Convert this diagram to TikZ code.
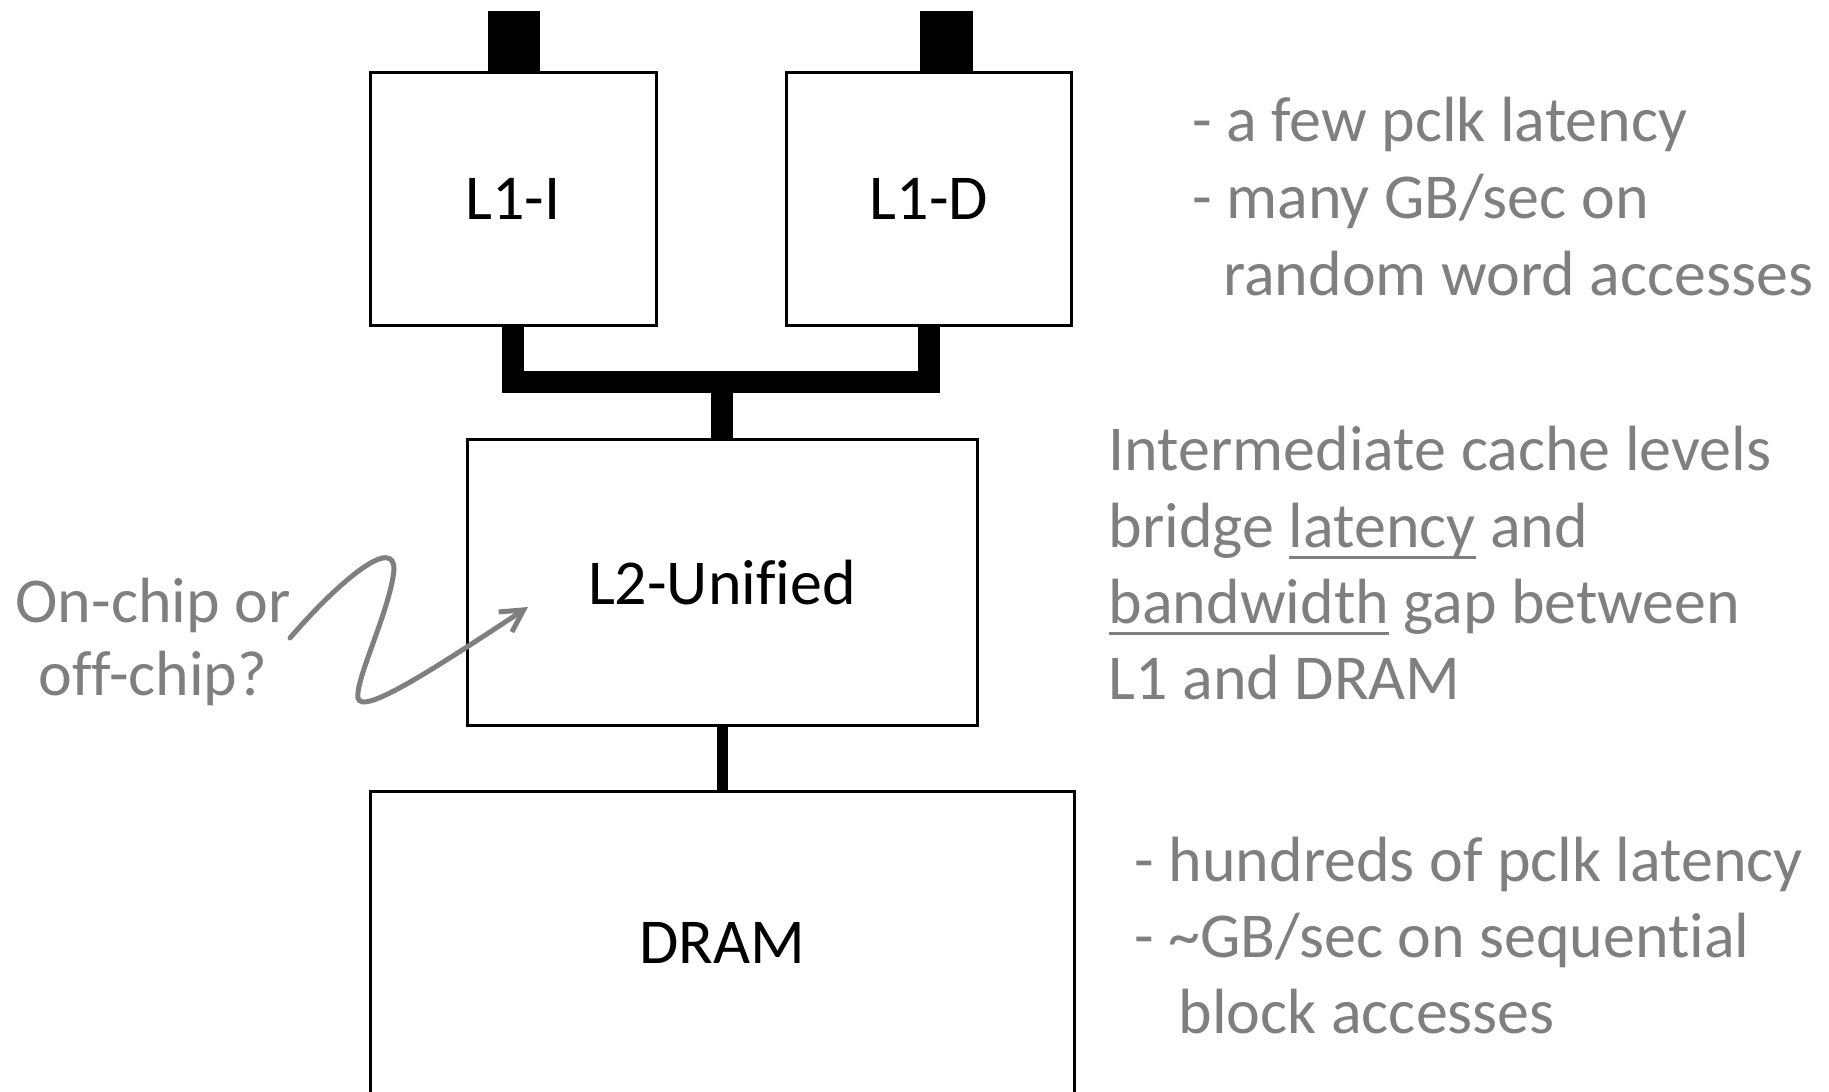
\documentclass[tikz,border=0pt]{standalone}
\usepackage{fontspec}
\setmainfont{Carlito}[Ligatures=NoCommon]
\usepackage{tikz}
\usetikzlibrary{arrows.meta}
\definecolor{notegray}{HTML}{7F7F7F}
\tikzset{>={Straight Barb[length=2.2mm,width=2.4mm]}}
\newcommand\ulword[1]{\setbox0\hbox{#1}\rlap{\rule[-0.17em]{\wd0}{0.05em}}\box0\relax}

\begin{document}
\begin{tikzpicture}[
    cache/.style={draw=black, line width=0.03cm, rectangle, inner sep=0pt, font=\fontsize{18.2}{21.7}\selectfont},
    note/.style={anchor=base west, inner sep=0pt, text=notegray, font=\fontsize{18.2}{21.7}\selectfont},
    bus/.style={line width=0.22cm, line join=miter},
    squiggle/.style={->, draw=notegray, line width=0.05cm, line cap=round}
]
    \useasboundingbox (0,0) rectangle (18.29,-10.92);

    % Cache boxes
    \node[cache, minimum width=2.86cm, minimum height=2.53cm] (L1I) at (5.13,-1.99) {L1-I};
    \node[cache, minimum width=2.85cm, minimum height=2.53cm] (L1D) at (9.29,-1.99) {L1-D};
    \node[cache, minimum width=5.10cm, minimum height=2.86cm] (L2) at (7.22,-5.825) {L2-Unified};
    \node[cache, minimum width=7.04cm, minimum height=3.03cm] (DRAM) at (7.22,-9.43) {DRAM};

    % Ports on top of L1 caches
    \fill ([xshift=-0.25cm]L1I.north) rectangle ++(0.52,0.60);
    \fill ([xshift=-0.09cm]L1D.north) rectangle ++(0.53,0.60);

    % Buses between levels
    \coordinate (bus) at (7.22,-3.825);
    \draw[bus] (L1I.south) |- (bus) -| (L1D.south);
    \draw[bus] (bus) -- (L2.north);
    \draw[line width=0.11cm] (L2.south) -- (DRAM.north);

    % Notes on the right
    \node[note] (n1a) at (11.92,-1.42) {- a few pclk latency};
    \node[note] (n1b) at (11.92,-2.19) {- many GB/sec on};
    \node[note] (n1c) at (12.225,-2.96) {random word accesses};

    \node[note] (n2a) at (11.08,-4.71) {Intermediate cache levels};
    \node[note] (n2b) at (11.08,-5.48) {bridge \ulword{latency} and};
    \node[note] (n2c) at (11.08,-6.24) {\ulword{bandwidth} gap between};
    \node[note] (n2d) at (11.08,-7.00) {L1 and DRAM};

    \node[note] (n3a) at (11.34,-8.82) {- hundreds of pclk latency};
    \node[note] (n3b) at (11.34,-9.58) {- \textasciitilde GB/sec on sequential};
    \node[note] (n3c) at (11.78,-10.34) {block accesses};

    % Question on the left
    \node[note, anchor=base] (q1) at (1.53,-6.23) {On-chip or};
    \node[note, anchor=base] (q2) at (1.53,-6.96) {off-chip?};
    \coordinate (tip) at (5.28,-6.07);
    \draw[squiggle] (2.90,-6.38) .. controls (3.40,-5.80) and (3.95,-5.35) .. (3.94,-5.70)
        .. controls (3.90,-6.10) and (3.55,-6.80) .. (3.58,-6.98)
        .. controls (3.62,-7.15) and (4.25,-6.75) .. (tip);

\end{tikzpicture}
\end{document}
